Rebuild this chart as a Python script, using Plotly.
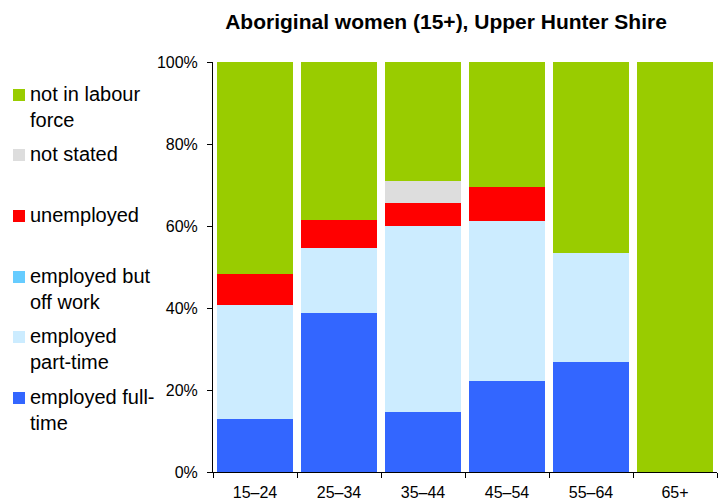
import plotly.graph_objects as go

age_groups = ["15–24", "25–34", "35–44", "45–54", "55–64", "65+"]

# shares in percent, bottom of stack first
full_time = [13.0, 38.7, 14.6, 22.3, 26.8, 0]
part_time = [27.8, 15.9, 45.4, 38.9, 26.7, 0]
off_work = [0, 0, 0, 0, 0, 0]
unemployed = [7.4, 6.8, 5.5, 8.3, 0, 0]
not_stated = [0, 0, 5.5, 0, 0, 0]
not_in_lf = [51.8, 38.6, 29.0, 30.5, 46.5, 100]

series = [
    ("employed full-<br>time", full_time, "#3366FF"),
    ("employed<br>part-time", part_time, "#CCECFF"),
    ("employed but<br>off work", off_work, "#66CCFF"),
    ("unemployed", unemployed, "#FF0000"),
    ("not stated", not_stated, "#DDDDDD"),
    ("not in labour<br>force", not_in_lf, "#99CC00"),
]

# legend rows (pixel y of the first text line in the screenshot), top to bottom
legend_y = [398, 337, 277, 216, 155, 95]

OFF = 8  # page body margin
W, H = 727, 504
L, T = 213 - OFF, 62 - OFF
pw, ph = 504, 410
R, B = W - L - pw, H - T - ph

fig = go.Figure()
for name, vals, col in series:
    fig.add_trace(go.Bar(x=age_groups, y=vals, name=name, marker_color=col,
                         marker_line_width=0, showlegend=False))

def px_x(px):
    return (px - OFF - L) / pw

def px_y(py):
    return (T + ph - (py - OFF)) / ph

for (name, vals, col), yy in zip(series, legend_y):
    fig.add_shape(type="rect", xref="paper", yref="paper",
                  x0=px_x(13), x1=px_x(25), y0=px_y(yy + 6), y1=px_y(yy - 6),
                  fillcolor=col, line_width=0)
    fig.add_annotation(text=name, xref="paper", yref="paper", x=px_x(28),
                       y=px_y(yy - 14), xanchor="left", yanchor="top",
                       align="left", showarrow=False,
                       font=dict(size=20, color="#000000"))

fig.update_layout(
    width=W, height=H,
    barmode="stack", bargap=0.1,
    plot_bgcolor="white", paper_bgcolor="white",
    margin=dict(l=L, r=R, t=T, b=B),
    font=dict(family="Liberation Sans, Arial, sans-serif", color="#000000"),
    title=dict(text="<b>Aboriginal women (15+), Upper Hunter Shire</b>",
               x=(446 - OFF) / W, xanchor="center", y=1 - (22 - OFF) / H,
               yanchor="middle", font=dict(size=21)),
)
fig.update_yaxes(range=[0, 100], tickvals=[0, 20, 40, 60, 80, 100],
                 ticktext=["0%", "20%", "40%", "60%", "80%", "100%"],
                 showgrid=False, showline=True, linecolor="black", linewidth=1,
                 ticks="outside", ticklen=5, tickcolor="black",
                 ticklabelstandoff=6, tickfont=dict(size=16), zeroline=False)
fig.update_xaxes(showgrid=False, showline=True, linecolor="black", linewidth=1,
                 ticks="outside", ticklen=5, tickcolor="black",
                 tickson="boundaries", ticklabelstandoff=6,
                 tickfont=dict(size=16))

fig.write_html("out.html")
